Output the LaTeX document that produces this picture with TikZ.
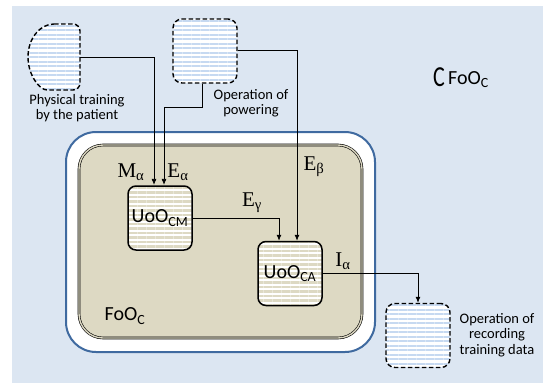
\documentclass[tikz,border=0pt]{standalone}
\usepackage{fontspec}
\setmainfont{Carlito}
\newfontfamily\serifl{Liberation Serif}
\usetikzlibrary{arrows.meta,patterns.meta}
\definecolor{bgblue}{HTML}{DCE6F2}
\definecolor{stripeblue}{HTML}{C6D9F1}
\definecolor{tan}{HTML}{DDD9C3}
\definecolor{frameblue}{HTML}{3F6AA0}
\tikzset{
  opbox/.style={draw, dashed, dash pattern=on 4.5pt off 2.5pt, line width=1.4pt,
    rounded corners=9pt, minimum width=64pt, minimum height=64pt,
    preaction={fill=white}, pattern={Lines[distance=4.5pt,line width=2pt]},
    pattern color=stripeblue},
  unitbox/.style={draw, line width=1.5pt, rounded corners=8pt,
    minimum width=64pt, minimum height=64pt, inner sep=0pt,
    preaction={fill=white}, pattern={Lines[distance=4.5pt,line width=2.2pt]},
    pattern color=tan},
  conn/.style={line width=0.8pt, -{Latex[length=6pt,width=5pt]}},
  lbl/.style={align=center, font=\fontsize{14.5}{15.5}\selectfont},
  flow/.style={font=\fontsize{21}{22}\selectfont\serifl},
  big/.style={font=\fontsize{20}{22}\selectfont},
}
\begin{document}
\begin{tikzpicture}[x=1pt, y=-1pt]
  \useasboundingbox (0,0) rectangle (543,386);
  \fill[bgblue] (12,6) rectangle (543,383);
  % framework boxes
  \draw[frameblue, line width=2pt, fill=white, rounded corners=30pt] (66,132) rectangle (375,352);
  \draw[fill=tan, double=tan, double distance=1.4pt, line width=0.6pt, rounded corners=24pt] (79,145) rectangle (362,338);
  % external operations
  \draw[dashed, dash pattern=on 4.5pt off 2.5pt, line width=1.4pt, preaction={fill=white},
    pattern={Lines[distance=4.5pt,line width=2pt]}, pattern color=stripeblue]
    [rounded corners=7pt] (54,24) -- (80,24) -- (80,90) -- (54,90) [sharp corners]
    arc[start angle=90, end angle=270, x radius=26, y radius=33] -- cycle;
  \coordinate (phys) at (80,57);
  \node[lbl] (physlbl) at (77,108) {Physical training\\by the patient};
  \node[opbox] (pow) at (205,51) {};
  \node[lbl] (powlbl) at (251,103) {Operation of\\powering};
  \node[opbox] (rec) at (418,335.5) {};
  \node[lbl] (reclbl) at (497,335) {Operation of\\recording\\training data};
  % units
  \node[unitbox, big] (cm) at (160,218) {UoO\textsubscript{CM}};
  \node[unitbox, big] (ca) at (290,273.5) {UoO\textsubscript{CA}};
  \node[big] (foo) at (125,316) {FoO\textsubscript{C}};
  \node[big] (cfoo) at (461,78) {\raisebox{-2pt}{\scalebox{1.1}[1.45]{C}}\,FoO\textsubscript{C}};
  % flows
  \draw[conn] (phys) -| ([xshift=-6pt]cm.north);
  \draw[conn] ([xshift=-3pt]pow.south) -- ++(0,24) -| ([xshift=4pt]cm.north);
  \draw[conn] ([yshift=1pt]pow.east) -| ([xshift=7pt]ca.north);
  \draw[conn] (cm.east) -| ([xshift=-11pt]ca.north);
  \draw[conn] (ca.east) -| (rec.north);
  \node[flow] (ma) at (131,172) {M\textsubscript{α}};
  \node[flow] (ea) at (178,172) {E\textsubscript{α}};
  \node[flow] (eg) at (252,203) {E\textsubscript{γ}};
  \node[flow] (eb) at (314,167) {E\textsubscript{β}};
  \node[flow] (ia) at (343,261) {I\textsubscript{α}};
\end{tikzpicture}
\end{document}
